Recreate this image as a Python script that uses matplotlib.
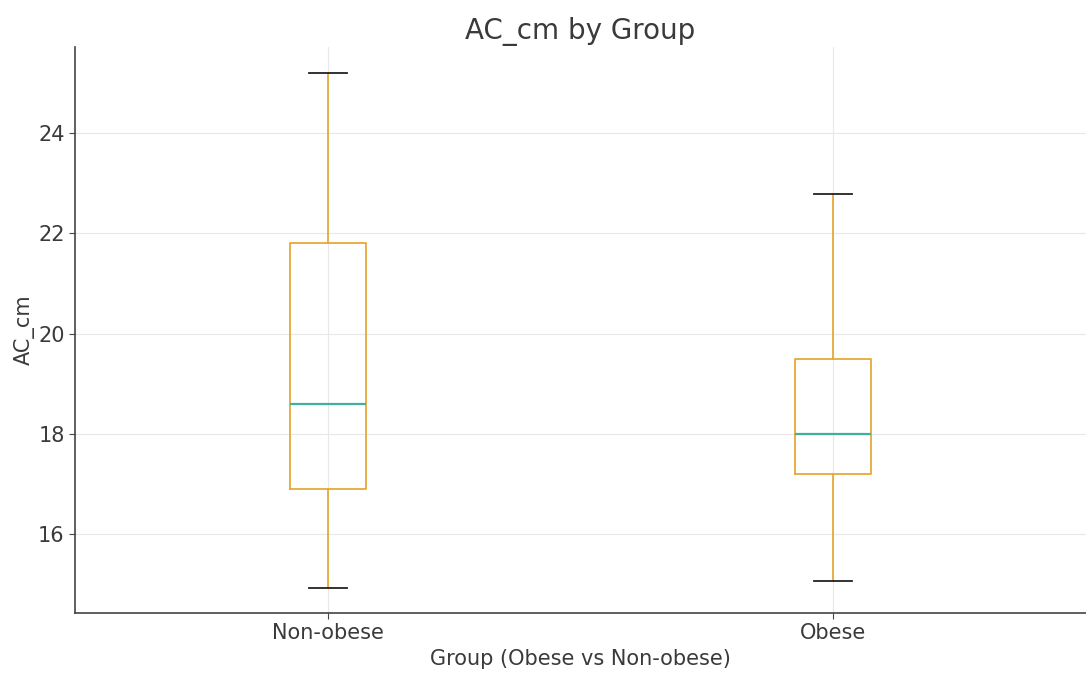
import matplotlib
matplotlib.use("Agg")
from matplotlib import pyplot as plt

plt.rcParams['font.family'] = ['DejaVu Sans']

# values
groups = ["Non-obese", "Obese"]
whisker_low = [14.92, 15.06]
q1 = [16.9, 17.2]
medians = [18.6, 18.0]
q3 = [21.8, 19.5]
whisker_high = [25.2, 22.78]

stats = []
for i in range(len(groups)):
    stats.append({
        "label": groups[i],
        "whislo": whisker_low[i],
        "q1": q1[i],
        "med": medians[i],
        "q3": q3[i],
        "whishi": whisker_high[i],
        "fliers": [],
    })

box_col = "#E8A838"
text_col = "#3a3a3a"

fig = plt.figure(figsize=(10.86, 6.77), dpi=100)
ax = fig.add_axes([75 / 1086, 64 / 677, 1 - 75 / 1086, (613 - 47) / 677])

ax.bxp(stats, widths=0.15, showfliers=False,
       boxprops=dict(color=box_col, linewidth=1.3),
       whiskerprops=dict(color=box_col, linewidth=1.3),
       capprops=dict(color="#222222", linewidth=1.3),
       medianprops=dict(color="#3FB09A", linewidth=1.6))

ax.set_xlim(0.5, 2.5)
ax.set_ylim(14.42, 25.72)
ax.set_yticks([16, 18, 20, 22, 24])
ax.grid(True, color="#e8e8e8", linewidth=0.8)
ax.set_axisbelow(True)

for s in ["top", "right"]:
    ax.spines[s].set_visible(False)
for s in ["left", "bottom"]:
    ax.spines[s].set_color("#444444")
    ax.spines[s].set_linewidth(1.2)

ax.tick_params(colors=text_col, labelsize=15, length=4, color="#444444")
ax.set_title("AC_cm by Group", fontsize=20, color=text_col, pad=6)
ax.set_xlabel("Group (Obese vs Non-obese)", fontsize=15, color=text_col, labelpad=4)
ax.set_ylabel("AC_cm", fontsize=15, color=text_col, labelpad=2)

fig.savefig("out.png", dpi=100)
